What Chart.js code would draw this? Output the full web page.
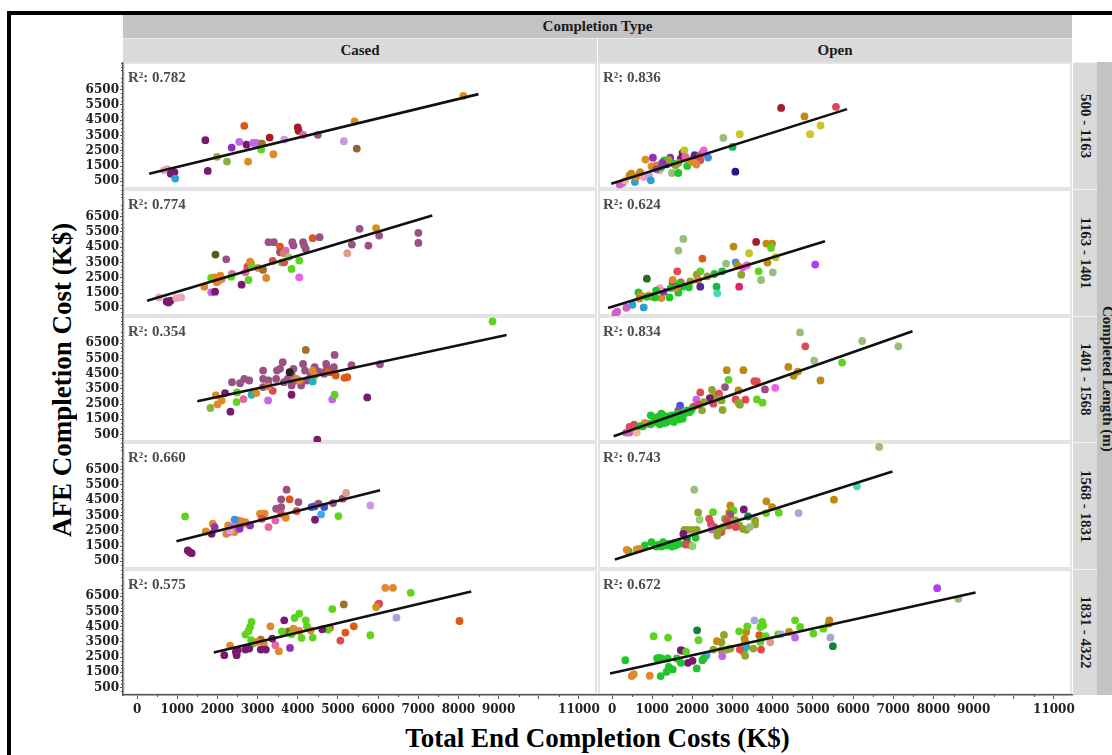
<!DOCTYPE html>
<html>
<head>
<meta charset="utf-8">
<script src="https://cdn.jsdelivr.net/npm/chart.js@4.4.1/dist/chart.umd.min.js"></script>
<style>
  html, body { margin:0; padding:0; background:#fff; width:1112px; height:755px; overflow:hidden; position:relative; font-family:"Liberation Serif", "Times New Roman", serif; }
  .abs { position:absolute; box-sizing:border-box; }
  #frame { left:7px; top:11px; width:1200px; height:800px; border:4px solid #000; }
  .band { display:flex; align-items:center; justify-content:center; font-weight:bold; font-size:15px; color:#1a1a1a; }
  .vert { writing-mode:vertical-rl; }
  canvas { position:absolute; }
</style>
</head>
<body>
<div id="frame" class="abs"></div>
<div class="abs band" style="left:123px;top:15px;width:949px;height:23px;background:#c3c3c3;">Completion Type</div>
<div class="abs band" style="left:123px;top:38px;width:474px;height:24px;background:#dadada;border-top:1px solid #ececec;">Cased</div>
<div class="abs band" style="left:598px;top:38px;width:474px;height:24px;background:#dadada;border-top:1px solid #ececec;">Open</div>
<div id="strips"></div>
<div class="abs band vert" style="left:1097px;top:62px;width:20px;height:633px;background:#c3c3c3;font-size:15px;">Completed Length (m)</div>
<div class="abs" style="left:40px;top:180px;width:44px;height:400px;display:flex;align-items:center;justify-content:center;font-weight:bold;font-size:27px;color:#000;writing-mode:vertical-rl;transform:rotate(180deg);">AFE Completion Cost (K$)</div>
<div class="abs" style="left:123px;top:722px;width:949px;height:32px;line-height:32px;text-align:center;font-weight:bold;font-size:27px;color:#000;">Total End Completion Costs (K$)</div>

<script>
// Facet labels
const completionTypes = ['Cased', 'Open'];
const lengthBins = ['500 - 1163', '1163 - 1401', '1401 - 1568', '1568 - 1831', '1831 - 4322'];
const r2Cased = ['0.782', '0.774', '0.354', '0.660', '0.575'];
const r2Open  = ['0.836', '0.624', '0.834', '0.743', '0.672'];

// Axis ticks
const yTickLabels = [500, 1500, 2500, 3500, 4500, 5500, 6500];
const xTickValues = [0, 1000, 2000, 3000, 4000, 5000, 6000, 7000, 8000, 9000, 10000, 11000];
const xTickLabels = ['0', '1000', '2000', '3000', '4000', '5000', '6000', '7000', '8000', '9000', '', '11000'];

// Well colour groups
const palette = ['#e8a4bf','#7a1a6e','#27a3d3','#8db03f','#9230b8','#c267e6','#dd5a14','#e0892b','#a0702c','#5fd41f',
  '#a51c2a','#e466a6','#9a5183','#c99ae0','#d8901c','#8a6432','#e04a55','#c08a12','#d2c425','#98bd7c',
  '#25b443','#1c1a8e','#d35fc9','#f2b48a','#3f8fe0','#1fc52b','#8fa52d','#5a5a1e','#ef5fe3','#e39c8c',
  '#2f6a22','#3de0b0','#e0266a','#4f2a9c','#222222','#3a55d6','#45a8ef','#a3a8d8','#23b3b5','#128040',
  '#8ed46a','#c0c428','#b43cf0'];

// [total end completion cost, AFE completion cost, well group]
const cased_500_1163 = [[670,1220,0],[755,1290,0],[850,1180,0],[840,1000,1],[930,1090,1],[950,680,2],[1760,1180,1],[1700,3190,1],[1990,2100,3],[2240,1790,3],[2355,2710,4],[2545,3080,5],[2670,4130,6],[2725,2900,1],[2765,1790,7],[2890,3010,5],[2965,3010,5],[3035,2970,5],[3110,2970,8],[3090,2575,9],[3300,3360,10],[3395,2270,7],[3665,3230,13],[4000,4020,10],[4020,3800,10],[4135,3540,11],[4500,3540,12],[5150,3120,13],[5415,4410,14],[5470,2640,15],[8120,6090,14]];
const open_500_1163 = [[4210,5300,10],[5575,5370,16],[4790,4740,17],[5190,4150,18],[4930,3580,18],[3180,3580,18],[2770,3340,19],[3000,2750,20],[3070,1130,21],[260,390,22],[190,300,22],[330,565,23],[480,1000,17],[436,890,17],[568,460,2],[682,960,16],[788,785,0],[832,1920,7],[920,890,13],[964,566,2],[981,1484,7],[1017,2050,4],[1096,1550,7],[1184,1220,0],[1228,1440,20],[1298,1877,25],[1360,1615,33],[1448,2050,4],[1492,1047,19],[1536,1660,20],[1580,1550,26],[1650,1047,25],[1712,1986,1],[1756,2357,1],[1800,2530,41],[1826,2096,11],[1870,1506,25],[1932,1877,7],[2003,1768,7],[2055,2205,33],[2179,2096,16],[2196,1877,16],[2240,2314,16],[2284,2530,28],[2390,2052,24],[600,800,7],[700,1100,17],[1100,1300,12],[1400,1900,26],[1650,1700,26],[1250,1700,4],[2100,1600,7]];
const cased_1163_1401 = [[545,1216,0],[737,955,1],[832,998,1],[785,889,1],[976,1173,0],[1100,1216,0],[1674,1916,7],[1846,1544,5],[1942,1588,1],[1952,4013,27],[1846,2484,9],[1933,2527,7],[2028,2309,7],[2076,2637,7],[1980,2200,7],[2105,2418,7],[2220,3707,12],[2363,2746,11],[2344,2571,9],[2602,2047,1],[2775,2353,9],[2698,2855,11],[2746,3227,16],[2813,3554,7],[2841,3402,7],[2860,3227,9],[3014,3139,7],[3138,3008,8],[3215,2484,7],[3377,3598,16],[3272,4822,12],[3406,4822,12],[3559,4538,6],[3559,4166,12],[3654,4101,7],[3607,3489,9],[3664,3511,16],[3702,4275,11],[3770,3839,40],[3865,4822,12],[3894,4603,12],[3846,3074,9],[4037,3620,9],[4037,2528,28],[4133,4822,12],[4161,4603,12],[4200,4385,12],[4372,5084,6],[4544,5150,12],[5233,4101,29],[5348,4669,12],[5539,5696,12],[5951,5740,14],[6027,5259,12],[5759,4603,12],[7003,5433,12],[7003,4778,12]];
const open_1163_1401 = [[1774,5040,19],[1650,4275,19],[867,2440,30],[1624,2921,16],[2249,3751,6],[3024,4538,17],[3587,4844,10],[3842,4734,17],[3983,4734,17],[3957,4450,9],[3411,4101,41],[4071,3839,41],[3869,3489,17],[5057,3358,42],[3649,2921,9],[4001,2855,19],[3710,2353,19],[3217,2702,26],[3253,3183,28],[3358,3314,28],[3077,3511,24],[3121,3293,17],[2839,3424,19],[3164,1916,32],[2601,1916,20],[2619,1479,31],[2742,2921,20],[2548,2746,20],[2371,2593,26],[2196,2921,9],[2108,2702,26],[2143,2353,7],[2196,1916,33],[1914,1872,25],[1949,2266,26],[1712,2200,16],[1756,1916,25],[1650,1523,25],[1510,2200,33],[1510,2353,7],[1589,1828,7],[1686,2091,25],[1457,1828,25],[1430,1216,25],[1228,1173,7],[1281,1588,4],[1184,1828,0],[1096,1654,25],[1008,1260,25],[920,1326,7],[1069,1216,25],[656,1544,25],[717,1326,7],[682,1151,17],[858,1260,25],[788,561,2],[506,736,2],[356,539,22],[127,277,22],[84,168,22]];
const cased_1401_1568 = [[8850,7941,9],[4487,163,1],[5730,2938,1],[4200,6062,8],[4918,5734,12],[6046,5122,12],[5338,5057,12],[2363,3943,12],[2669,4161,12],[2793,4052,12],[2564,3877,12],[3138,4708,12],[3138,4161,12],[3272,3724,12],[3482,4708,12],[3559,4817,12],[3626,5254,12],[3463,4161,12],[3655,3943,12],[3750,4161,12],[3846,4489,12],[3894,4817,12],[3942,4052,12],[4085,3724,12],[4133,5144,12],[4181,4708,12],[4229,4052,12],[4325,4380,12],[4420,4926,12],[4468,4708,12],[4563,4599,12],[4707,5144,12],[4726,4817,12],[4659,4489,12],[4803,4599,12],[4898,4926,12],[3272,4052,12],[3138,3615,12],[3846,3724,12],[3798,4598,34],[3970,4161,7],[4037,4052,7],[4372,4708,7],[4420,4380,7],[4755,4599,6],[4946,4380,6],[5166,4227,6],[5233,4270,6],[4372,3987,38],[1961,3069,7],[2105,2741,7],[2004,2479,7],[1827,2239,3],[2191,3222,1],[2325,1998,1],[2487,3265,9],[2478,2632,9],[2851,3113,38],[2966,3222,7],[2650,2828,11],[3377,3374,16],[3262,3659,7],[3262,2741,5],[3846,3113,1],[4860,2806,5],[4918,3113,9]];
const open_1401_1568 = [[4679,7220,19],[4811,6303,16],[6228,6652,19],[7126,6303,19],[5031,5363,19],[5726,5232,9],[4388,4948,17],[4520,4358,17],[4626,4642,17],[5189,4052,17],[2856,4729,17],[3270,4729,17],[2900,4096,9],[3543,4008,16],[3605,3987,16],[3147,3397,17],[2812,3615,12],[3807,3462,12],[4062,3571,28],[3605,2807,9],[3746,2588,9],[3323,2785,16],[3077,2807,16],[3147,2588,26],[3182,2457,26],[2751,2107,26],[2522,2523,16],[2487,3440,26],[2548,3069,26],[2663,3178,16],[2196,3265,16],[2099,2785,5],[2434,2894,1],[2284,2632,26],[2240,2085,26],[2680,2850,26],[2724,2741,26],[2020,2304,16],[2152,2457,16],[1694,2392,35],[1650,2085,12],[876,1211,25],[964,1758,25],[1052,1539,25],[1096,1321,25],[1140,1648,25],[1184,1168,25],[1228,1430,25],[1272,1758,25],[1316,1605,25],[1360,1321,25],[1404,1692,25],[1448,1474,25],[1492,1758,25],[1536,1321,25],[1580,1605,25],[1624,1867,25],[1668,1474,25],[1712,1758,25],[1756,1539,25],[1800,1867,25],[1862,2085,25],[1932,1976,25],[1976,2129,25],[770,1037,25],[964,1168,25],[1316,1255,25],[1492,1430,25],[1228,1867,25],[550,1146,16],[436,993,16],[814,1255,7],[348,622,22],[436,622,22],[612,622,23],[700,1037,25]];
const cased_1568_1831 = [[1196,3437,9],[1263,1208,1],[1359,1033,1],[1311,1098,1],[1856,2300,1],[1712,2453,7],[1884,2956,7],[1932,2737,4],[2220,2300,7],[2296,2519,7],[2363,2628,7],[2430,2410,7],[2507,2737,7],[2583,3131,7],[2650,2956,7],[2507,3174,7],[2267,2847,7],[2698,3065,7],[2430,3218,24],[2363,2737,5],[2296,2410,5],[2554,2628,4],[2813,2846,4],[2315,2519,0],[3061,3612,7],[3176,3612,7],[3109,3284,16],[3272,2737,11],[3444,3174,11],[3463,3939,12],[3588,4048,12],[3588,4551,12],[3588,3612,16],[3702,3349,7],[3722,5185,12],[3798,4551,6],[3970,3786,16],[4018,4376,12],[4343,4048,35],[4420,4092,35],[4659,4048,35],[4516,4267,12],[4583,3568,36],[4430,3218,1],[5013,3459,9],[4879,4311,12],[5118,4595,12],[5204,4966,29],[5807,4158,13]];
const open_1568_1831 = [[6651,7981,19],[6096,5403,31],[5524,4529,17],[4643,3655,37],[3842,4420,17],[3983,4049,17],[4150,3677,9],[3834,3655,9],[2047,5185,19],[2143,3699,26],[2513,3721,9],[2179,3218,40],[2944,4158,17],[2918,3677,17],[3024,3830,9],[3279,3896,1],[2944,3546,12],[3385,3437,39],[2812,3284,26],[2900,3065,26],[3077,3174,26],[3165,2846,26],[3253,2628,26],[3341,2562,26],[3561,3174,26],[3561,2912,26],[3429,2737,19],[2856,3174,16],[2900,2846,16],[3077,2737,16],[2416,3284,16],[2460,2956,16],[2548,2737,16],[2610,2519,16],[2724,2410,16],[2487,2584,5],[2636,2519,26],[2768,2737,26],[2619,2191,26],[1800,2562,26],[1888,2562,26],[2003,2562,26],[2108,2562,26],[1774,2300,1],[1862,1973,39],[2082,2038,25],[1826,1601,16],[1932,1579,16],[2003,1492,40],[409,1164,25],[814,1536,25],[981,1755,25],[1140,1580,25],[1272,1755,25],[1228,1470,25],[1360,1536,25],[1492,1470,25],[1580,1536,25],[1668,1645,25],[1404,1645,25],[1096,1470,25],[1536,1689,25],[365,1252,7],[612,1274,7],[682,1318,7]];
const cased_1831_4322 = [[6180,7059,7],[6371,7059,7],[6812,6732,9],[5147,5967,8],[6000,5967,16],[6027,6010,16],[5950,5792,14],[4860,5661,9],[6458,5093,37],[8027,4874,6],[5396,4525,6],[5186,4110,6],[5061,3585,16],[5807,3935,9],[4803,4437,6],[4755,4306,9],[4037,5355,9],[4200,4918,9],[4229,4525,9],[3922,5071,9],[4095,3760,9],[4373,3782,9],[4611,4328,1],[4324,4262,7],[3769,4197,15],[3894,4372,7],[4037,4219,7],[3607,4197,9],[3846,4000,9],[3664,4918,1],[3808,3104,4],[3444,3279,11],[3530,2886,7],[3367,3716,1],[3320,4525,7],[2851,4809,9],[2775,4219,9],[2813,4481,9],[2698,3978,9],[2841,3607,9],[2889,3388,9],[3080,3650,8],[2985,3498,7],[3157,3388,7],[2172,2623,1],[2478,2623,1],[2507,2951,1],[2698,2995,1],[2793,3061,1],[3080,2995,1],[3205,2995,1],[2459,2842,1],[2315,3257,7]];
const open_1831_4322 = [[8094,7037,42],[8622,6338,19],[5409,4918,17],[5392,4700,17],[5436,3782,37],[5497,3214,39],[5260,4372,9],[5013,4044,9],[4679,4481,9],[4556,4918,9],[4556,3782,5],[4406,4153,17],[4133,4000,9],[4203,4000,37],[3939,3476,29],[3710,2995,16],[3737,4809,9],[3763,4590,9],[3693,4481,9],[3543,4918,37],[3666,3935,6],[3825,3869,9],[3693,3498,9],[3517,3061,26],[3341,4153,17],[3297,3716,17],[3314,3498,17],[3367,4525,9],[3165,4197,9],[3279,2798,26],[3314,2580,26],[3253,3126,26],[3341,3170,38],[3182,2995,16],[2786,3957,26],[2724,3476,26],[2522,2995,26],[2724,2951,26],[2856,2995,26],[2944,3061,26],[2610,3542,17],[2742,2558,5],[2152,3607,9],[2117,4262,39],[2355,2623,36],[2249,2295,25],[2284,2405,25],[2108,1750,25],[1712,2951,1],[1756,2908,1],[1888,2121,1],[2003,2252,1],[1844,2842,9],[1615,2405,25],[1712,2121,25],[1386,2405,25],[1228,2405,25],[1122,2405,25],[1166,2449,25],[1413,1859,25],[1510,1684,25],[1360,1531,25],[1034,3869,9],[1395,3782,9],[330,2295,25],[1210,1247,25],[488,1247,7],[541,1378,7],[937,1269,7]];

// Fitted lines: [x start, y start, x end, y end]
const fitCased = [[300,1000,8500,6200],[250,1000,7350,6570],[1500,2680,9200,7050],[980,1820,6050,5140],[1910,2800,8320,6820]];
const fitOpen  = [[-20,350,5850,5220],[-100,520,5300,4890],[40,380,7480,7290],[70,620,6980,6370],[-50,1420,9050,6750]];

const casedPoints = [cased_500_1163, cased_1163_1401, cased_1401_1568, cased_1568_1831, cased_1831_4322];
const openPoints  = [open_500_1163, open_1163_1401, open_1401_1568, open_1568_1831, open_1831_4322];

// Page geometry of the facet grid
const X_MIN = -350, X_MAX = 11450, Y_MIN = 0, Y_MAX = 8300;
const colLeft = [123, 598], colWidth = 474, yAxisWidth = 50, xAxisHeight = 30, labelOverhang = 14;
const rowEdges = [62, 189, 316, 442, 569, 695];
const tickFont = { family: 'DejaVu Serif', weight: 'bold', size: 12 };
const axisColor = '#555';

// Row strip labels on the right
const strips = document.getElementById('strips');
lengthBins.forEach((lab, r) => {
  const d = document.createElement('div');
  d.className = 'abs band vert';
  d.style.cssText = `left:1073px;top:${rowEdges[r]}px;width:24px;height:${rowEdges[r+1]-rowEdges[r]}px;background:#dadada;border-top:1px solid #f2f2f2;font-size:15px;`;
  d.textContent = lab;
  strips.appendChild(d);
});

const panelDecor = {
  id: 'panelDecor',
  beforeDraw(chart) {
    const { ctx, chartArea: a } = chart;
    ctx.save();
    ctx.fillStyle = '#fff';
    ctx.fillRect(a.left, a.top, a.right - a.left, a.bottom - a.top);
    ctx.strokeStyle = '#e4e4e4';
    ctx.lineWidth = 2;
    ctx.strokeRect(a.left + 1, a.top + 1, a.right - a.left - 2, a.bottom - a.top - 2);
    ctx.restore();
  },
  afterDraw(chart, args, opts) {
    const { ctx, chartArea: a, scales } = chart;
    ctx.save();
    ctx.strokeStyle = axisColor;
    ctx.lineWidth = 1;
    // minor ticks
    if (scales.y.options.display) {
      for (let v = 250; v < Y_MAX; v += 250) {
        if ((v - 500) % 1000 === 0) continue;
        const py = Math.round(scales.y.getPixelForValue(v)) + 0.5;
        ctx.beginPath(); ctx.moveTo(a.left - 2, py); ctx.lineTo(a.left, py); ctx.stroke();
      }
    }
    if (scales.x.options.display) {
      for (let v = 500; v < X_MAX; v += 1000) {
        const px = Math.round(scales.x.getPixelForValue(v)) + 0.5;
        ctx.beginPath(); ctx.moveTo(px, a.bottom); ctx.lineTo(px, a.bottom + 2); ctx.stroke();
      }
    }
    // R² label
    ctx.fillStyle = '#4d4d4d';
    ctx.font = 'bold 15px "Liberation Serif"';
    ctx.textBaseline = 'alphabetic';
    ctx.fillText('R²: ' + opts.r2, a.left + 5, a.top + 20);
    ctx.restore();
  }
};

function makePanel(col, row) {
  const pts = col === 0 ? casedPoints[row] : openPoints[row];
  const fit = col === 0 ? fitCased[row] : fitOpen[row];
  const r2 = col === 0 ? r2Cased[row] : r2Open[row];
  const showY = col === 0, showX = row === rowEdges.length - 2;
  const padRight = showX ? labelOverhang : 0;
  const w = colWidth + (showY ? yAxisWidth : 0) + padRight;
  const h = rowEdges[row + 1] - rowEdges[row] + (showX ? xAxisHeight : 0);
  const cv = document.createElement('canvas');
  cv.width = w; cv.height = h;
  cv.style.left = (colLeft[col] - (showY ? yAxisWidth : 0)) + 'px';
  cv.style.top = rowEdges[row] + 'px';
  cv.style.width = w + 'px'; cv.style.height = h + 'px';
  document.body.appendChild(cv);

  new Chart(cv, {
    type: 'scatter',
    data: {
      datasets: [
        {
          data: pts.map(p => ({ x: p[0], y: p[1] })),
          backgroundColor: pts.map(p => palette[p[2]]),
          pointRadius: 3.9, pointBorderWidth: 0, borderWidth: 0, order: 2
        },
        {
          data: [{ x: fit[0], y: fit[1] }, { x: fit[2], y: fit[3] }],
          showLine: true, borderColor: '#111', borderWidth: 2.6, pointRadius: 0, order: 1
        }
      ]
    },
    options: {
      animation: false, responsive: false, events: [],
      layout: { padding: { left: 0, top: 0, bottom: 0, right: padRight }, autoPadding: false },
      plugins: { legend: { display: false }, tooltip: { enabled: false }, panelDecor: { r2 } },
      scales: {
        x: {
          type: 'linear', min: X_MIN, max: X_MAX, display: showX,
          afterBuildTicks: s => { s.ticks = xTickValues.map(v => ({ value: v })); },
          afterFit: s => { if (showX) { s.height = xAxisHeight; } s.paddingLeft = 0; s.paddingRight = 0; },
          grid: { drawOnChartArea: false, drawTicks: true, tickLength: 4, color: axisColor, lineWidth: 1 },
          border: { display: true, color: axisColor, width: 1.5 },
          ticks: { font: tickFont, color: '#222', padding: 4, autoSkip: false, maxRotation: 0,
                   callback: (v, i) => xTickLabels[i] }
        },
        y: {
          type: 'linear', min: Y_MIN, max: Y_MAX, display: showY,
          afterBuildTicks: s => { s.ticks = yTickLabels.map(v => ({ value: v })); },
          afterFit: s => { if (showY) { s.width = yAxisWidth; } s.paddingTop = 0; s.paddingBottom = 0; },
          grid: { drawOnChartArea: false, drawTicks: true, tickLength: 3, color: axisColor, lineWidth: 1 },
          border: { display: true, color: axisColor, width: 1.5 },
          ticks: { font: tickFont, color: '#222', padding: 1, autoSkip: false, callback: v => String(v) }
        }
      }
    },
    plugins: [panelDecor]
  });
}

for (let r = 0; r < lengthBins.length; r++) {
  for (let c = 0; c < completionTypes.length; c++) makePanel(c, r);
}
</script>
</body>
</html>
